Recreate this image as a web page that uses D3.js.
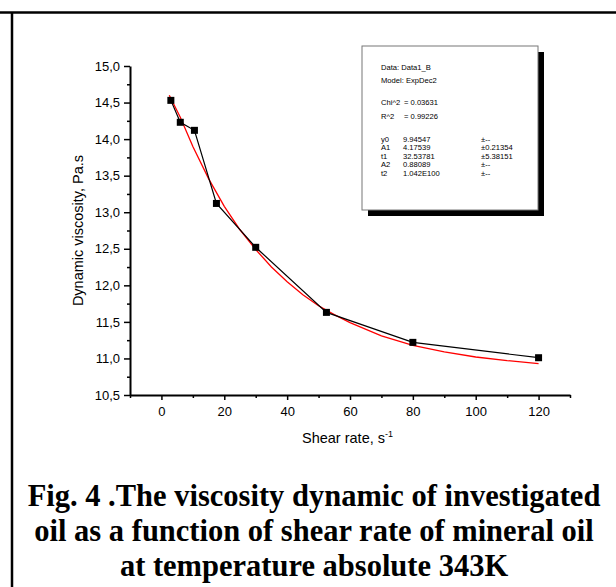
<!DOCTYPE html>
<html>
<head>
<meta charset="utf-8">
<script src="https://d3js.org/d3.v7.min.js"></script>
<style>
    body { margin: 0; background: #fff; }
    svg text { font-family: "Liberation Sans", Arial, sans-serif; fill: #000; }
    .caption { font-family: "Liberation Serif", "Times New Roman", serif; font-weight: bold; font-size: 30.5px; }
    .tick text { font-size: 13px; }
    .legend text { font-size: 7.6px; }
</style>
</head>
<body>
<svg id="chart" width="616" height="587"></svg>
<script>
// measured points (shear rate, viscosity)
const shearRate = [3, 6, 10.5, 17.5, 30, 52.5, 80, 120];
const viscosity = [14.53, 14.23, 14.12, 13.12, 12.52, 11.63, 11.22, 11.01];

// red fit curve
const fitX = [2.5, 6, 10, 15, 20, 25, 30, 35, 40, 45, 50, 55, 60, 70, 80, 90, 100, 110, 120];
const fitY = [14.6, 14.3, 13.9, 13.46, 13.08, 12.76, 12.49, 12.25, 12.05, 11.87, 11.72, 11.6, 11.49, 11.31, 11.18, 11.09, 11.02, 10.97, 10.93];

const xMajor = [0, 20, 40, 60, 80, 100, 120];
const xMinor = [-10, 10, 30, 50, 70, 90, 110, 130];
const yMajor = [10.5, 11, 11.5, 12, 12.5, 13, 13.5, 14, 14.5, 15];
const yMinor = [10.75, 11.25, 11.75, 12.25, 12.75, 13.25, 13.75, 14.25, 14.75];

const legendHead = ["Data: Data1_B", "Model: ExpDec2"];
const legendStats = [["Chi^2", "= 0.03631"], ["R^2", "= 0.99226"]];
const legendParams = [
    ["y0", "9.94547", "\u00b1--"],
    ["A1", "4.17539", "\u00b10.21354"],
    ["t1", "32.53781", "\u00b15.38151"],
    ["A2", "0.88089", "\u00b1--"],
    ["t2", "1.042E100", "\u00b1--"]
];

const captionLines = [
    "Fig. 4 .The viscosity dynamic of investigated",
    "oil as a function of shear rate of mineral oil",
    "at temperature absolute 343K"
];

const svg = d3.select("#chart");

// page frame lines
svg.append("line").attr("x1", 0).attr("x2", 616).attr("y1", 12.5).attr("y2", 12.5)
    .attr("stroke", "#000").attr("stroke-width", 2.5);
svg.append("line").attr("x1", 12).attr("x2", 12).attr("y1", 12).attr("y2", 587)
    .attr("stroke", "#000").attr("stroke-width", 2.5);

const x = d3.scaleLinear().domain([-10, 130]).range([130, 570]);
const y = d3.scaleLinear().domain([10.5, 15]).range([395, 66]);
const fmt = d => d3.format(".1f")(d).replace(".", ",");

// minor ticks
svg.append("g").attr("transform", "translate(0,395)")
    .call(d3.axisBottom(x).tickValues(xMinor).tickSize(3).tickFormat(""))
    .call(g => g.select(".domain").remove())
    .call(g => g.selectAll("line").attr("stroke-width", 1.5));
svg.append("g").attr("transform", "translate(130,0)")
    .call(d3.axisLeft(y).tickValues(yMinor).tickSize(3).tickFormat(""))
    .call(g => g.select(".domain").remove())
    .call(g => g.selectAll("line").attr("stroke-width", 1.5));

// major axes
svg.append("g").attr("transform", "translate(0,395)")
    .call(d3.axisBottom(x).tickValues(xMajor).tickSizeInner(5).tickSizeOuter(0).tickPadding(7))
    .call(g => g.select(".domain").attr("stroke-width", 2))
    .call(g => g.selectAll(".tick line").attr("stroke-width", 1.5))
    .call(g => g.selectAll("text").attr("font-family", null));
svg.append("g").attr("transform", "translate(130,0)")
    .call(d3.axisLeft(y).tickValues(yMajor).tickSizeInner(6).tickSizeOuter(0).tickPadding(4).tickFormat(fmt))
    .call(g => g.select(".domain").attr("stroke-width", 2))
    .call(g => g.selectAll(".tick line").attr("stroke-width", 1.5))
    .call(g => g.selectAll("text").attr("font-family", null));

// axis titles
const xt = svg.append("text").attr("x", 302).attr("y", 443).attr("font-size", 14.5);
xt.append("tspan").text("Shear rate, s");
xt.append("tspan").attr("dy", -6).attr("font-size", 9).text("-1");

svg.append("text")
    .attr("transform", "translate(83,230.5) rotate(-90)")
    .attr("text-anchor", "middle")
    .attr("font-size", 14.5)
    .text("Dynamic viscosity, Pa.s");

// fit curve
const fitPts = fitX.map((d, i) => [d, fitY[i]]);
svg.append("path")
    .attr("d", d3.line().x(d => x(d[0])).y(d => y(d[1]))(fitPts))
    .attr("fill", "none").attr("stroke", "#ff0000").attr("stroke-width", 1.3);

// measured data
const pts = shearRate.map((d, i) => [d, viscosity[i]]);
svg.append("path")
    .attr("d", d3.line().x(d => x(d[0])).y(d => y(d[1]))(pts))
    .attr("fill", "none").attr("stroke", "#000").attr("stroke-width", 1.2);
svg.selectAll("rect.pt").data(pts).enter().append("rect")
    .attr("class", "pt")
    .attr("x", d => x(d[0]) - 3.5).attr("y", d => y(d[1]) - 3.5)
    .attr("width", 7).attr("height", 7).attr("fill", "#000");

// legend box with shadow
const lg = svg.append("g").attr("class", "legend");
lg.append("rect").attr("x", 368).attr("y", 52).attr("width", 176).attr("height", 164).attr("fill", "#000");
lg.append("rect").attr("x", 362).attr("y", 46).attr("width", 176).attr("height", 164)
    .attr("fill", "#fff").attr("stroke", "#777").attr("stroke-width", 1);

legendHead.forEach((t, i) => {
    lg.append("text").attr("x", 381).attr("y", 70 + i * 13).text(t);
});
legendStats.forEach((r, i) => {
    lg.append("text").attr("x", 381).attr("y", 105 + i * 14).text(r[0]);
    lg.append("text").attr("x", 404).attr("y", 105 + i * 14).text(r[1]);
});
legendParams.forEach((r, i) => {
    const yy = 141.5 + i * 8.5;
    lg.append("text").attr("x", 381).attr("y", yy).text(r[0]);
    lg.append("text").attr("x", 403).attr("y", yy).text(r[1]);
    lg.append("text").attr("x", 481).attr("y", yy).text(r[2]);
});

// caption
captionLines.forEach((t, i) => {
    svg.append("text").attr("class", "caption")
        .attr("x", 314).attr("y", 506 + i * 35)
        .attr("text-anchor", "middle")
        .text(t);
});
</script>
</body>
</html>
